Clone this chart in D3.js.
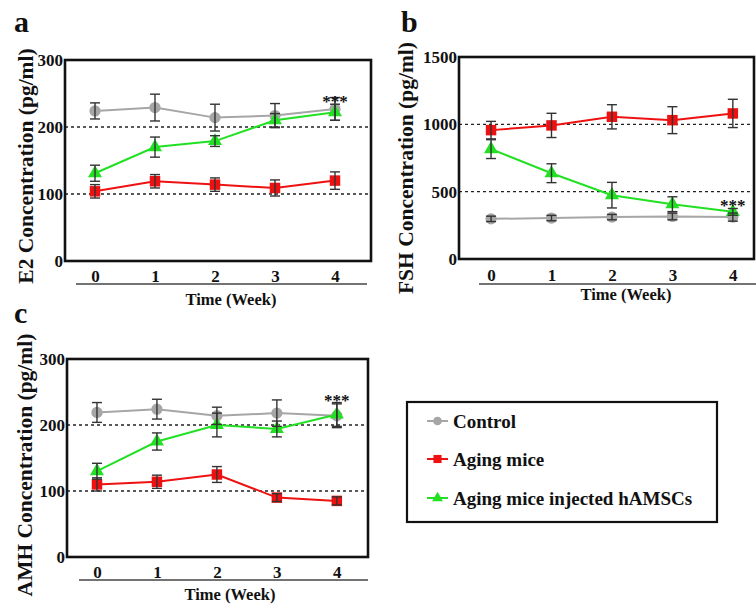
<!DOCTYPE html>
<html>
<head>
<meta charset="utf-8">
<script src="https://cdn.jsdelivr.net/npm/d3@7"></script>
<style>
  body { margin: 0; background: #fff; }
  svg text { font-family: "Liberation Serif", "Times New Roman", serif; font-weight: bold; }
</style>
</head>
<body>
<svg id="chart" width="756" height="604"></svg>
<script>
// weeks on the x axis
var weeks = [0, 1, 2, 3, 4];
var seriesNames = ["Control", "Aging mice", "Aging mice injected hAMSCs"];

// E2 (panel a)
var e2Control = [224, 229, 214, 217, 227];
var e2ControlErr = [12, 20, 20, 18, 17];
var e2Aging = [104, 119, 114, 109, 120];
var e2AgingErr = [10, 10, 10, 12, 13];
var e2Treated = [131, 170, 179, 210, 222];
var e2TreatedErr = [12, 15, 8, 10, 12];

// FSH (panel b)
var fshControl = [298, 304, 311, 316, 311];
var fshControlErr = [20, 20, 20, 25, 30];
var fshAging = [957, 992, 1056, 1031, 1081];
var fshAgingErr = [65, 90, 90, 100, 105];
var fshTreated = [816, 637, 474, 407, 350];
var fshTreatedErr = [70, 70, 95, 55, 25];

// AMH (panel c)
var amhControl = [219, 224, 214, 218, 214];
var amhControlErr = [15, 15, 13, 20, 18];
var amhAging = [110, 114, 125, 90, 85];
var amhAgingErr = [10, 10, 12, 6, 6];
var amhTreated = [130, 175, 200, 194, 216];
var amhTreatedErr = [12, 13, 18, 12, 18];

var e2Ticks = [0, 100, 200, 300];
var fshTicks = [0, 500, 1000, 1500];
var amhTicks = [0, 100, 200, 300];

var colors = ["#a6a6a6", "#ee1111", "#22e022"];
var symbols = [d3.symbolCircle, d3.symbolSquare, d3.symbolTriangle];
var symbolSizes = [100, 110, 85];

var svg = d3.select("#chart");

function drawPanel(p) {
    var g = svg.append("g");
    var x = d3.scaleLinear().domain(p.xDomain).range([p.left, p.right]);
    var y = d3.scaleLinear().domain([0, p.yMax]).range([p.bottom, p.top]);

    // dotted reference lines
    g.selectAll(".ref").data(p.dashed).enter().append("line")
        .attr("x1", p.left).attr("x2", p.right)
        .attr("y1", function(d) { return y(d); })
        .attr("y2", function(d) { return y(d); })
        .attr("stroke", "#222").attr("stroke-width", 1.3)
        .attr("stroke-dasharray", "3,3");

    // frame
    g.append("rect")
        .attr("x", p.left).attr("y", p.top)
        .attr("width", p.right - p.left).attr("height", p.bottom - p.top)
        .attr("fill", "none").attr("stroke", "#111").attr("stroke-width", 2.6);

    // y axis labels
    var yAxis = d3.axisLeft(y).tickValues(p.yTicks).tickFormat(d3.format("d")).tickSize(0).tickPadding(2);
    var ya = g.append("g").attr("transform", "translate(" + p.left + ",0)").call(yAxis);
    ya.select(".domain").remove();
    ya.selectAll("text").attr("font-size", 17).attr("fill", "#111")
        .attr("font-family", "Liberation Serif").attr("font-weight", "bold");

    // x axis labels (tickY = vertical centre of the labels)
    var xAxis = d3.axisBottom(x).tickValues(weeks).tickFormat(d3.format("d")).tickSize(0).tickPadding(0);
    var xa = g.append("g").attr("transform", "translate(0," + (p.tickY - 6) + ")").call(xAxis);
    xa.select(".domain").remove();
    xa.selectAll("text").attr("font-size", 17).attr("fill", "#111")
        .attr("font-family", "Liberation Serif").attr("font-weight", "bold");

    // underline below the week labels
    g.append("line")
        .attr("x1", p.lineX1).attr("x2", p.lineX2)
        .attr("y1", p.lineY).attr("y2", p.lineY)
        .attr("stroke", "#444").attr("stroke-width", 1.5);

    g.append("text").attr("x", p.timeX).attr("y", p.timeY)
        .attr("text-anchor", "middle").attr("font-size", 16.5).attr("fill", "#111")
        .text("Time (Week)");

    g.append("text")
        .attr("transform", "translate(" + p.titleX + "," + p.titleY + ") rotate(-90)")
        .attr("text-anchor", "middle").attr("font-size", 21.5).attr("fill", "#111")
        .text(p.title);

    svg.append("text").attr("x", p.letterX).attr("y", p.letterY)
        .attr("font-family", "Liberation Sans").attr("font-weight", "bold")
        .attr("font-size", 30).attr("fill", "#111").text(p.letter);

    var line = d3.line().x(function(d, i) { return x(weeks[i]); }).y(function(d) { return y(d); });

    p.series.forEach(function(s, k) {
        g.append("path").datum(s.values)
            .attr("d", line).attr("fill", "none")
            .attr("stroke", colors[k]).attr("stroke-width", 2);
    });

    p.series.forEach(function(s, k) {
        g.selectAll(".m" + k).data(s.values).enter().append("path")
            .attr("transform", function(d, i) { return "translate(" + x(weeks[i]) + "," + y(d) + ")"; })
            .attr("d", d3.symbol().type(symbols[k]).size(symbolSizes[k]))
            .attr("fill", colors[k]);
    });

    p.series.forEach(function(s, k) {
        var eg = g.append("g").attr("stroke", "#333").attr("stroke-width", 1.4);
        s.values.forEach(function(v, i) {
            var cx = x(weeks[i]);
            var lo = y(v - s.err[i]), hi = y(v + s.err[i]);
            eg.append("line").attr("x1", cx).attr("x2", cx).attr("y1", lo).attr("y2", hi);
            eg.append("line").attr("x1", cx - 5).attr("x2", cx + 5).attr("y1", lo).attr("y2", lo);
            eg.append("line").attr("x1", cx - 5).attr("x2", cx + 5).attr("y1", hi).attr("y2", hi);
        });
    });

    g.append("text").attr("x", x(4)).attr("y", y(p.starValue) + 9)
        .attr("text-anchor", "middle").attr("font-size", 17).attr("fill", "#111")
        .text("***");
}

drawPanel({
    letter: "a", letterX: 14, letterY: 32,
    left: 65, top: 60, right: 371, bottom: 261,
    xDomain: [-0.5, 4.6], yMax: 300, yTicks: e2Ticks, dashed: [100, 200],
    tickY: 276, lineX1: 76, lineX2: 367, lineY: 284, timeX: 231, timeY: 305,
    title: "E2 Concentration (pg/ml)", titleX: 33, titleY: 166,
    starValue: 244,
    series: [
        { values: e2Control, err: e2ControlErr },
        { values: e2Aging, err: e2AgingErr },
        { values: e2Treated, err: e2TreatedErr }
    ]
});

drawPanel({
    letter: "b", letterX: 401, letterY: 32,
    left: 459, top: 57, right: 754, bottom: 259,
    xDomain: [-0.53, 4.35], yMax: 1500, yTicks: fshTicks, dashed: [500, 1000],
    tickY: 275, lineX1: 479, lineX2: 760, lineY: 284, timeX: 626, timeY: 300,
    title: "FSH Concentration (pg/ml)", titleX: 413, titleY: 168,
    starValue: 420,
    series: [
        { values: fshControl, err: fshControlErr },
        { values: fshAging, err: fshAgingErr },
        { values: fshTreated, err: fshTreatedErr }
    ]
});

drawPanel({
    letter: "c", letterX: 14, letterY: 323,
    left: 67, top: 359, right: 368, bottom: 557,
    xDomain: [-0.5, 4.52], yMax: 300, yTicks: amhTicks, dashed: [100, 200],
    tickY: 572, lineX1: 79, lineX2: 368, lineY: 580, timeX: 230, timeY: 600,
    title: "AMH Concentration (pg/ml)", titleX: 32, titleY: 465,
    starValue: 242,
    series: [
        { values: amhControl, err: amhControlErr },
        { values: amhAging, err: amhAgingErr },
        { values: amhTreated, err: amhTreatedErr }
    ]
});

// legend
var legend = svg.append("g");
legend.append("rect").attr("x", 407).attr("y", 402).attr("width", 310).attr("height", 120)
    .attr("fill", "none").attr("stroke", "#111").attr("stroke-width", 2.2);
var legendRows = [421, 459, 498];
seriesNames.forEach(function(name, k) {
    var ly = legendRows[k];
    legend.append("line").attr("x1", 427).attr("x2", 448).attr("y1", ly).attr("y2", ly)
        .attr("stroke", colors[k]).attr("stroke-width", 2);
    legend.append("path").attr("transform", "translate(437.5," + ly + ")")
        .attr("d", d3.symbol().type(symbols[k]).size(symbolSizes[k] * 0.6))
        .attr("fill", colors[k]);
    legend.append("text").attr("x", 453).attr("y", ly + 6.5)
        .attr("font-size", 19).attr("fill", "#111").text(name);
});
</script>
</body>
</html>
